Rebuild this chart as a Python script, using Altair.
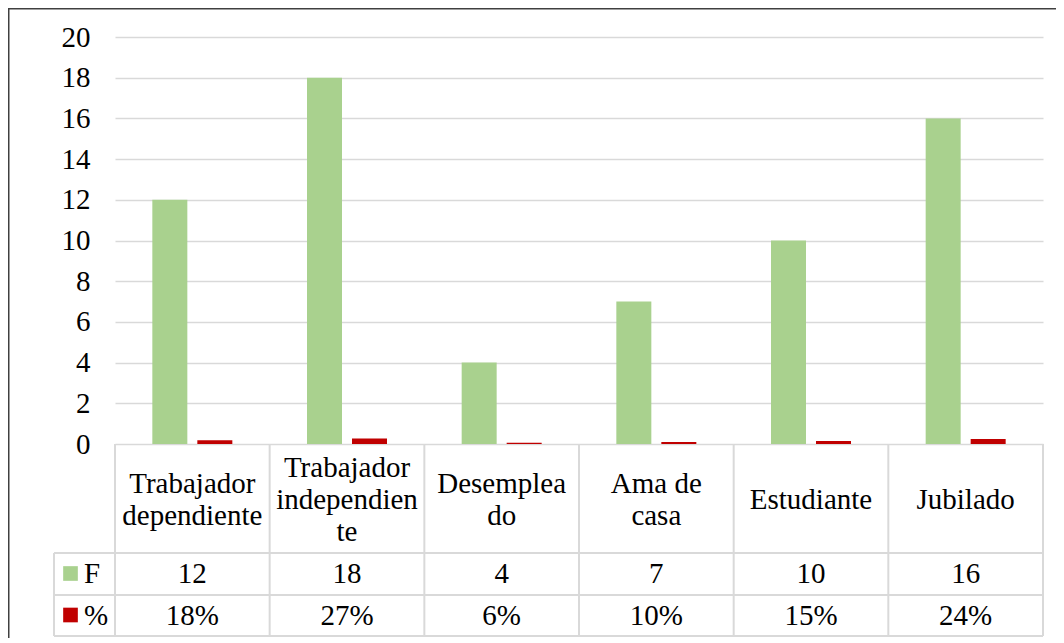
import altair as alt
import pandas as pd

# ---------------- data ----------------
categories = ["Trabajador dependiente", "Trabajador independiente", "Desempleado",
              "Ama de casa", "Estudiante", "Jubilado"]
cat_labels = ["Trabajador\ndependiente", "Trabajador\nindependien\nte", "Desemplea\ndo",
              "Ama de\ncasa", "Estudiante", "Jubilado"]
series = ["F", "%"]
freq = [12, 18, 4, 7, 10, 16]
pct = [0.18, 0.27, 0.06, 0.10, 0.15, 0.24]
pct_labels = ["18%", "27%", "6%", "10%", "15%", "24%"]
y_ticks = [0, 2, 4, 6, 8, 10, 12, 14, 16, 18, 20]

# ---------------- layout / style ----------------
W, H = 1048, 630
X0, X1 = 107, 1035          # plot area (x)
Y0, Y20 = 436, 29           # y pixel of 0 and of 20
ROW1, ROW2, ROW3 = 545, 587, 628   # table horizontal boundaries
LEG_X = 46                   # left edge of legend column
FONT = "Liberation Serif"
FS = 29
LH = 32
GREEN, RED = "#a9d18e", "#c00000"
GRID = "#d9d9d9"

bars_df = pd.DataFrame({
    "cat": categories * 2,
    "series": ["F"] * len(categories) + ["%"] * len(categories),
    "value": freq + pct,
})
cat_df = pd.DataFrame({"cat": categories, "label": cat_labels,
                       "nlines": [lbl.count("\n") + 1 for lbl in cat_labels],
                       "F": [str(v) for v in freq], "pct": pct_labels})
leg_df = pd.DataFrame({"series": series})
one_df = pd.DataFrame({"a": [0]})

x_scale = alt.Scale(domain=categories, range=[X0, X1], paddingInner=0, paddingOuter=0)


def xenc(band=0.5):
    return alt.X("cat:N", sort=categories, scale=x_scale, axis=None, bandPosition=band)


color_enc = alt.Color("series:N", scale=alt.Scale(domain=series, range=[GREEN, RED]), legend=None)

bars = alt.Chart(bars_df).mark_bar().encode(
    x=alt.X("cat:N", sort=categories, scale=x_scale, axis=None),
    xOffset=alt.XOffset("series:N", sort=series,
                        scale=alt.Scale(domain=series, paddingInner=0.2222, paddingOuter=0.8296)),
    y=alt.Y("value:Q",
            scale=alt.Scale(domain=[0, 20], range=[Y0, Y20], nice=False, zero=True),
            axis=alt.Axis(values=y_ticks, offset=-X0, labelPadding=25, domain=False, ticks=False,
                          grid=True, gridColor=GRID, gridWidth=1.5, title=None,
                          labelFont=FONT, labelFontSize=FS, labelColor="black")),
    color=color_enc,
)

# table vertical lines
vrules = alt.Chart(cat_df).mark_rule(color=GRID, strokeWidth=2).encode(
    x=xenc(0), y=alt.value(Y0), y2=alt.value(ROW3))
vrule_end = alt.Chart(cat_df).transform_filter(
    alt.datum.cat == categories[-1]).mark_rule(color=GRID, strokeWidth=2).encode(
    x=xenc(1), y=alt.value(Y0), y2=alt.value(ROW3))
vrule_leg = alt.Chart(one_df).mark_rule(color=GRID, strokeWidth=2).encode(
    x=alt.value(LEG_X), y=alt.value(ROW1), y2=alt.value(ROW3))


def hrule(y, xa):
    return alt.Chart(one_df).mark_rule(color=GRID, strokeWidth=2).encode(
        x=alt.value(xa), x2=alt.value(X1), y=alt.value(y))


hrules = [hrule(ROW1, LEG_X), hrule(ROW2, LEG_X), hrule(ROW3, LEG_X)]

txt = dict(font=FONT, fontSize=FS, color="black", baseline="middle", align="center")

# category labels: multi-line blocks centred vertically in the header row
cat_texts = []
for n in sorted(set(cat_df["nlines"])):
    cat_texts.append(
        alt.Chart(cat_df).transform_filter(alt.datum.nlines == n)
        .mark_text(lineBreak="\n", lineHeight=LH, dy=-(n - 1) * LH / 2, **txt)
        .encode(x=xenc(), y=alt.value((Y0 + ROW1) / 2 + 1), text="label:N"))

f_text = alt.Chart(cat_df).mark_text(**txt).encode(
    x=xenc(), y=alt.value((ROW1 + ROW2) / 2), text="F:N")
p_text = alt.Chart(cat_df).mark_text(**txt).encode(
    x=xenc(), y=alt.value((ROW2 + ROW3) / 2), text="pct:N")

# legend column
leg_layers = []
for s, yc in zip(series, [(ROW1 + ROW2) / 2, (ROW2 + ROW3) / 2]):
    leg_layers.append(alt.Chart(leg_df).transform_filter(alt.datum.series == s)
                      .mark_square(size=215, opacity=1, filled=True)
                      .encode(x=alt.value(62.5), y=alt.value(yc - 0.5), color=color_enc))
    leg_layers.append(alt.Chart(leg_df).transform_filter(alt.datum.series == s)
                      .mark_text(font=FONT, fontSize=FS, color="black", baseline="middle", align="left")
                      .encode(x=alt.value(76), y=alt.value(yc), text="series:N"))

# outer frame (top and left edges visible)
frame_left = alt.Chart(one_df).mark_rule(color="#404040", strokeWidth=1.5).encode(
    x=alt.value(0.75), y=alt.value(0), y2=alt.value(H))
frame_top = alt.Chart(one_df).mark_rule(color="#404040", strokeWidth=1.5).encode(
    x=alt.value(0), x2=alt.value(W), y=alt.value(0.75))

chart = alt.layer(
    bars, vrules, vrule_end, vrule_leg, *hrules, *cat_texts, f_text, p_text,
    *leg_layers, frame_left, frame_top
).properties(
    width=W, height=H, autosize=alt.AutoSizeParams(type="none"), padding=0
).configure_view(stroke=None)

chart.save("out.html", embed_options={"renderer": "svg", "actions": False})
